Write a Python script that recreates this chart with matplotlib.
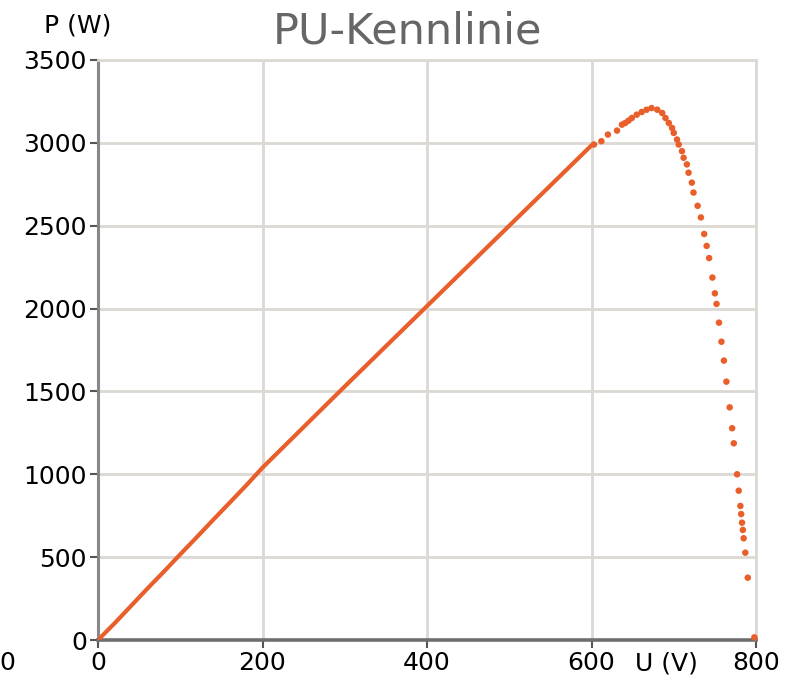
import matplotlib
matplotlib.use("Agg")
from matplotlib import pyplot as plt

# P-U characteristic, values
u_dense = [0, 20, 40, 60, 80, 100, 120, 140, 160, 180, 200, 220, 240, 260, 280, 300,
           320, 340, 360, 380, 400, 420, 440, 460, 480, 500, 520, 540, 560, 580, 600]
p_dense = [0, 100, 205, 310, 412, 517, 620, 725, 828, 932, 1040, 1138, 1236, 1334, 1432, 1530,
           1627, 1724, 1821, 1918, 2015, 2112, 2209, 2306, 2403, 2500, 2597, 2694, 2791, 2888, 2985]

u_dots = [603, 612, 620, 631, 637, 641, 645, 649, 655, 661, 667, 673, 680, 686, 690, 694,
          698, 700, 704, 706, 710, 712, 716, 718, 722, 724, 729, 733, 737, 740, 743, 747,
          750, 752, 755, 758, 761, 764, 768, 771, 773, 777, 779, 781, 782, 783, 784, 785,
          787, 790, 798]
p_dots = [2990, 3010, 3050, 3074, 3110, 3120, 3134, 3150, 3170, 3186, 3200, 3210, 3200, 3180, 3150, 3120,
          3090, 3060, 3020, 2990, 2950, 2910, 2870, 2820, 2760, 2700, 2620, 2550, 2450, 2378, 2305, 2187,
          2092, 2028, 1915, 1800, 1686, 1559, 1404, 1278, 1187, 1000, 901, 809, 760, 708, 664, 614,
          527, 376, 16]

x_ticks = [0, 200, 400, 600, 800]
y_ticks = [0, 500, 1000, 1500, 2000, 2500, 3000, 3500]

orange = '#E95F2B'
grid_c = '#dcd8d4'

fig = plt.figure(figsize=(8.07, 6.81), dpi=100)
ax = fig.add_axes([98/807, 41/681, 658/807, 580/681])

ax.plot(u_dense, p_dense, '-', color=orange, lw=3, solid_capstyle='round', zorder=3)
ax.scatter(u_dots, p_dots, s=22, color=orange, edgecolors='none', zorder=3, clip_on=False)

ax.set_xlim(0, 800)
ax.set_ylim(0, 3500)
ax.set_xticks(x_ticks)
ax.set_yticks(y_ticks)
ax.grid(True, color=grid_c, lw=2)
ax.set_axisbelow(True)

for s in ['top', 'right']:
    ax.spines[s].set_color(grid_c)
    ax.spines[s].set_linewidth(2)
ax.spines['left'].set_color('#888888')
ax.spines['bottom'].set_color('#6e6e6e')
ax.spines['left'].set_linewidth(2.2)
ax.spines['bottom'].set_linewidth(2.6)
ax.tick_params(axis='both', length=6, width=1.5, color='#555555', labelsize=18, pad=2)

fig.text(407/807, 1 - 31/681, 'PU-Kennlinie', ha='center', va='center', fontsize=31, color='#666666')
fig.text(78/807, 1 - 25/681, 'P (W)', ha='center', va='center', fontsize=18, color='black')
fig.text(666/807, 1 - 663/681, 'U (V)', ha='center', va='center', fontsize=18, color='black')
fig.text(7/807, 1 - 663/681, '0', ha='center', va='center', fontsize=18, color='black')

fig.savefig('out.png', dpi=100)
